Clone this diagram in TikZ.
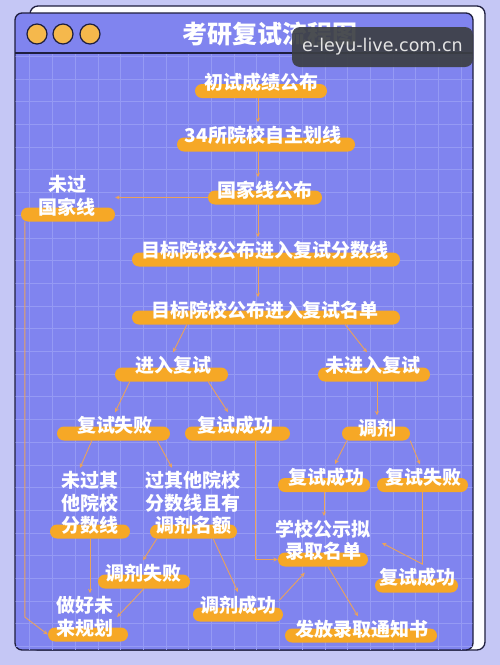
\documentclass[tikz,border=0pt]{standalone}
\usepackage{fontspec}
\newfontfamily\cjk{Noto Sans CJK SC}
\newfontfamily\wmfont{DejaVu Sans}
\usetikzlibrary{arrows.meta}
\definecolor{bgpurple}{HTML}{C5C7F5}
\definecolor{winblue}{HTML}{8084EF}
\definecolor{gridblue}{HTML}{959AF4}
\definecolor{framedark}{HTML}{1E1E3E}
\definecolor{barorange}{HTML}{F6A826}
\definecolor{linkorange}{HTML}{E9A25C}
\definecolor{dotorange}{HTML}{F5B84C}
\definecolor{wmgray}{HTML}{3C3F44}
\definecolor{wmtext}{HTML}{E4E4E4}
\begin{document}
\begin{tikzpicture}[x=1pt, y=-1pt,
  bar/.style={fill=barorange, rounded corners=7pt, minimum height=14pt, inner sep=0pt},
  txt/.style={text=white, align=center, font=\cjk\bfseries\fontsize{19}{22.5}\selectfont},
  link/.style={draw=linkorange, line width=0.9pt, -{Stealth[length=4.5pt,width=4pt]}}]
\useasboundingbox (0,0) rectangle (500,665);
\fill[bgpurple] (0,0) rectangle (500,665);
% window
\draw[framedark, fill=white!96!bgpurple, line width=1.3pt, rounded corners=8pt] (30,6) rectangle (485,650);
\draw[framedark, fill=winblue, line width=1.3pt, rounded corners=7pt] (15,13) rectangle (473,650);
\begin{scope}
\clip (15.7,54) rectangle (472.3,649.3);
\foreach \x in {29.8,52.5,...,470} \draw[gridblue, line width=0.8pt] (\x,53) -- (\x,650);
\foreach \y in {56.3,79,...,650} \draw[gridblue, line width=0.8pt] (15,\y) -- (473,\y);
\end{scope}
\draw[framedark, line width=1.3pt] (15,53) -- (473,53);
\foreach \x in {37,63,90} \draw[framedark, fill=dotorange, line width=1.2pt] (\x,34) circle[radius=10pt];
\node[text=white, font=\cjk\bfseries\fontsize{25}{25}\selectfont] (title) at (270,34) {考研复试流程图};
% bars
\foreach \n/\x/\y/\w in {chushi/261/91/132, zihua/266/144.5/178, guojia/265/197.5/114, weiguo/68/214.5/94,
  fenshu/266/259.5/268, mingdan/266/317.5/268, jinru/171.5/374.5/113, weijinru/374/374.5/112,
  shibaiL/113.5/433.5/113, chenggongM/237.5/433.5/105, tiaoji/376/433.5/68,
  chenggongR/324/485/92, shibaiR/422.5/485/91, weiguoqita/90/531.5/80, guoqita/193.5/531.5/87,
  gongshi/323/559.5/90, chenggongB/416.5/585.5/83, tiaojishibai/144/581.5/92,
  tiaojichenggong/238/614.5/90, fafang/361/635.5/152, zuohao/88/634.5/80}
  \node[bar, minimum width=\w pt] (\n-bar) at (\x,\y) {};
% texts
\foreach \n/\x/\y/\t in {chushi/261/82/初试成绩公布, zihua/263/135/34所院校自主划线,
  guojia/265/190/国家线公布, weiguo/67/196/{未过\\国家线},
  fenshu/265/250/目标院校公布进入复试分数线, mingdan/265/310/目标院校公布进入复试名单,
  jinru/173/365/进入复试, weijinru/373/365/未进入复试,
  shibaiL/115/425/复试失败, chenggongM/235/425/复试成功, tiaoji/377/428/调剂,
  chenggongR/326/477/复试成功, shibaiR/423/477/复试失败,
  weiguoqita/90/503/{未过其\\他院校\\分数线}, guoqita/193/503/{过其他院校\\分数线且有\\调剂名额},
  gongshi/323/540/{学校公示拟\\录取名单}, chenggongB/417/577/复试成功,
  tiaojishibai/143/573/调剂失败, tiaojichenggong/238/605/调剂成功,
  fafang/362/629/发放录取通知书, zuohao/85/617/{做好未\\来规划}}
  \node[txt] (\n) at (\x,\y) {\t};
% links
\draw[link] ([xshift=-3pt]chushi-bar.south) -- ([xshift=-5pt]zihua.north);
\draw[link] ([xshift=-8pt]zihua-bar.south) -- ([xshift=-7pt]guojia.north);
\draw[link] (guojia-bar.west) -- (guojia-bar.west -| weiguo-bar.east);
\draw[link] ([xshift=-7pt]guojia-bar.south) -- ([xshift=-7pt]fenshu.north);
\draw[link] ([xshift=-8pt]fenshu-bar.south) -- ([xshift=-7pt]mingdan.north);
\draw[link] ([xshift=55pt]mingdan-bar.south west) -- (jinru.north);
\draw[link] ([xshift=-55pt]mingdan-bar.south east) -- ([xshift=-6pt]weijinru.north);
\draw[link] ([xshift=15pt]jinru-bar.south west) -- (shibaiL.north);
\draw[link] ([xshift=-20pt]jinru-bar.south east) -- ([xshift=-7pt]chenggongM.north);
\draw[link] (weijinru-bar.south -| tiaoji.north) -- (tiaoji.north);
\draw[link] ([xshift=5pt]tiaoji-bar.south west) -- ([xshift=9pt]chenggongR.north);
\draw[link] (tiaoji-bar.south east) -- ([xshift=-3pt]shibaiR.north);
\draw[link] ([xshift=35pt]shibaiL-bar.south west) -- ([xshift=-10pt]weiguoqita.north);
\draw[link] ([xshift=-13pt]shibaiL-bar.south east) -- ([xshift=-21pt]guoqita.north);
\draw[link] ([xshift=17.5pt]chenggongM-bar.south) |- (gongshi-bar.west);
\draw[link] (chenggongR-bar.south) -- (chenggongR-bar.south |- gongshi.north);
\coordinate (knick) at (shibaiR-bar.south |- chenggongB.north);
\draw[link] (shibaiR-bar.south) -- (knick) -- ([xshift=8pt,yshift=-3pt]gongshi.east);
\draw[link] ([xshift=7pt]guoqita-bar.south west) -- (tiaojishibai.north);
\draw[link] ([xshift=-24pt]guoqita-bar.south east) -- (tiaojichenggong.north);
\draw[link] ([yshift=5pt]tiaojichenggong.east) -- ([xshift=27pt,yshift=-6pt]gongshi-bar.south west);
\draw[link] ([xshift=5pt]gongshi-bar.south) -- ([xshift=-4pt]fafang.north);
\draw[link] (weiguoqita-bar.south) -- (weiguoqita-bar.south |- zuohao.north);
\draw[link] (tiaojishibai-bar.south) -- (zuohao.east);
\path ([xshift=4pt]weiguo-bar.south west) coordinate (start);
\draw[link] (start) -- (start |- zuohao.west) -- (zuohao-bar.west);
% watermark
\node[fill=wmgray, fill opacity=0.92, text opacity=1, rounded corners=8pt, minimum width=181pt,
  minimum height=40pt, text=wmtext, font=\wmfont\fontsize{17.5}{17.5}\selectfont] (mark) at (382.5,47) {e-leyu-live.com.cn};
\end{tikzpicture}
\end{document}
